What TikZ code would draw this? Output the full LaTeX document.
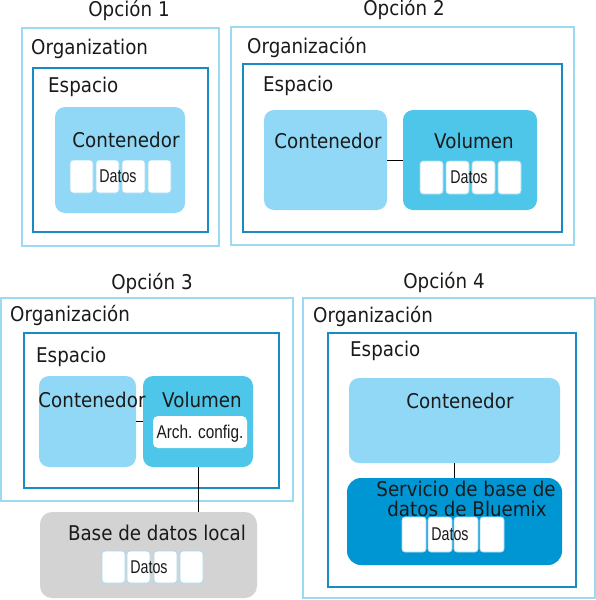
\documentclass[tikz,border=0pt]{standalone}
\usepackage{fontspec}
\usepackage{graphicx}
\setmainfont{DejaVu Sans}[FakeStretch=0.9]
\newfontfamily\narrowfont{Liberation Sans}
\definecolor{orgc}{HTML}{9CDAF1}
\definecolor{espc}{HTML}{1A8AC2}
\definecolor{contc}{HTML}{90D8F6}
\definecolor{volc}{HTML}{4EC6E9}
\definecolor{svcc}{HTML}{0096D4}
\definecolor{grayc}{HTML}{D3D3D4}
\definecolor{cellc}{HTML}{A6DCF0}
\definecolor{txtc}{HTML}{1A1A1A}
\begin{document}
\begin{tikzpicture}[x=1pt,y=-1pt,
  box/.style={anchor=north west, inner sep=0pt, outer sep=0pt},
  orgbox/.style={box, draw=orgc, line width=2pt},
  espbox/.style={box, draw=espc, line width=2pt},
  contbox/.style={box, fill=contc, rounded corners=10pt},
  volbox/.style={box, fill=volc, rounded corners=10pt},
  svcbox/.style={box, fill=svcc, rounded corners=14pt},
  dbbox/.style={box, fill=grayc, rounded corners=12pt},
  cellbox/.style={box, fill=white, draw=cellc, line width=0.8pt, rounded corners=3pt},
  lbl/.style={font=\fontsize{20.3}{23}\selectfont, text=txtc, inner sep=0pt},
  lblw/.style={lbl, anchor=base west},
  lblc/.style={lbl, anchor=base},
  dat/.style={font=\narrowfont\fontsize{18.5}{20}\selectfont, text=txtc, inner sep=0pt, anchor=base},
  link/.style={draw=black, line width=1pt}
]
\useasboundingbox (0,0) rectangle (596,600);

% ---------- Opcion 1 ----------
\node[lblc] (t1) at (129,16) {Opción 1};
\node[orgbox, minimum width=197pt, minimum height=218pt] (org1) at (22,28) {};
\node[lblw] (orgl1) at (31,54) {Organization};
\node[espbox, minimum width=175pt, minimum height=164pt] (esp1) at (33,68) {};
\node[lblw] (espl1) at (48,92) {Espacio};
\node[contbox, minimum width=130pt, minimum height=106pt] (cont1) at (55,107) {};
\node[lblc] (contl1) at (126,147) {Contenedor};
\node[cellbox, minimum width=23pt, minimum height=33pt] (c11) at (70,160) {};
\node[cellbox, minimum width=23pt, minimum height=33pt] (c12) at (96,160) {};
\node[cellbox, minimum width=23pt, minimum height=33pt] (c13) at (122,160) {};
\node[cellbox, minimum width=23pt, minimum height=33pt] (c14) at (148,160) {};
\node[dat] (d1) at (118,182) {\scalebox{0.77}[1]{Datos}};

% ---------- Opcion 2 ----------
\node[lblc] (t2) at (404,15) {Opción 2};
\node[orgbox, minimum width=343pt, minimum height=218pt] (org2) at (231,27) {};
\node[lblw] (orgl2) at (247,53) {Organización};
\node[espbox, minimum width=319pt, minimum height=168pt] (esp2) at (243,64) {};
\node[lblw] (espl2) at (263,91) {Espacio};
\node[contbox, minimum width=123pt, minimum height=100pt] (cont2) at (264,110) {};
\node[lblc] (contl2) at (328,148) {Contenedor};
\node[volbox, minimum width=134pt, minimum height=100pt] (vol2) at (403,110) {};
\node[lblc] (voll2) at (474,148) {Volumen};
\node[cellbox, minimum width=23pt, minimum height=33pt] (c21) at (420,161) {};
\node[cellbox, minimum width=23pt, minimum height=33pt] (c22) at (446,161) {};
\node[cellbox, minimum width=23pt, minimum height=33pt] (c23) at (472,161) {};
\node[cellbox, minimum width=23pt, minimum height=33pt] (c24) at (498,161) {};
\node[dat] (d2) at (469,183) {\scalebox{0.77}[1]{Datos}};
\draw[link] (cont2.east) -- (vol2.west);

% ---------- Opcion 3 ----------
\node[lblc] (t3) at (152,289) {Opción 3};
\node[orgbox, minimum width=292pt, minimum height=203pt] (org3) at (1,298) {};
\node[lblw] (orgl3) at (10,321) {Organización};
\node[espbox, minimum width=255pt, minimum height=155pt] (esp3) at (24,333) {};
\node[lblw] (espl3) at (36,362) {Espacio};
\node[contbox, minimum width=97pt, minimum height=91pt] (cont3) at (39,376) {};
\node[volbox, minimum width=110pt, minimum height=91pt] (vol3) at (143,376) {};
\node[lblc] (contl3) at (92,407) {Contenedor};
\node[lblc] (voll3) at (202,407) {Volumen};
\node[box, fill=white, rounded corners=5pt, minimum width=94pt, minimum height=32pt] (arch) at (153,416) {};
\node[dat] (archl) at (200,438) {\scalebox{0.83}[1]{\fontsize{18.5}{20}\selectfont Arch. config.}};
\draw[link] (cont3.east) -- (vol3.west);
\node[dbbox, minimum width=217pt, minimum height=86pt] (db) at (40,512) {};
\node[lblc] (dbl) at (157,540) {Base de datos local};
\node[cellbox, minimum width=23pt, minimum height=32pt] (c31) at (102,551) {};
\node[cellbox, minimum width=23pt, minimum height=32pt] (c32) at (127,551) {};
\node[cellbox, minimum width=23pt, minimum height=32pt] (c33) at (154,551) {};
\node[cellbox, minimum width=23pt, minimum height=32pt] (c34) at (180,551) {};
\node[dat] (d3) at (149,573) {\scalebox{0.77}[1]{Datos}};
\draw[link] (vol3.south) -- (vol3.south |- db.north);

% ---------- Opcion 4 ----------
\node[lblc] (t4) at (444,288) {Opción 4};
\node[orgbox, minimum width=292pt, minimum height=300pt] (org4) at (303,298) {};
\node[lblw] (orgl4) at (313,322) {Organización};
\node[espbox, minimum width=248pt, minimum height=254pt] (esp4) at (328,333) {};
\node[lblw] (espl4) at (350,356) {Espacio};
\node[contbox, minimum width=211pt, minimum height=85pt] (cont4) at (349,378) {};
\node[lblc] (contl4) at (460,408) {Contenedor};
\node[svcbox, minimum width=215pt, minimum height=87pt] (svc) at (347,478) {};
\node[lblc] (svcl1) at (466,496) {Servicio de base de};
\node[lblc] (svcl2) at (467,516) {datos de Bluemix};
\node[cellbox, minimum width=24pt, minimum height=35pt] (c41) at (402,517) {};
\node[cellbox, minimum width=24pt, minimum height=35pt] (c42) at (428,517) {};
\node[cellbox, minimum width=24pt, minimum height=35pt] (c43) at (454,517) {};
\node[cellbox, minimum width=24pt, minimum height=35pt] (c44) at (480,517) {};
\node[dat] (d4) at (450,540) {\scalebox{0.77}[1]{Datos}};
\draw[link] (cont4.south) -- (svc.north);
\end{tikzpicture}
\end{document}
